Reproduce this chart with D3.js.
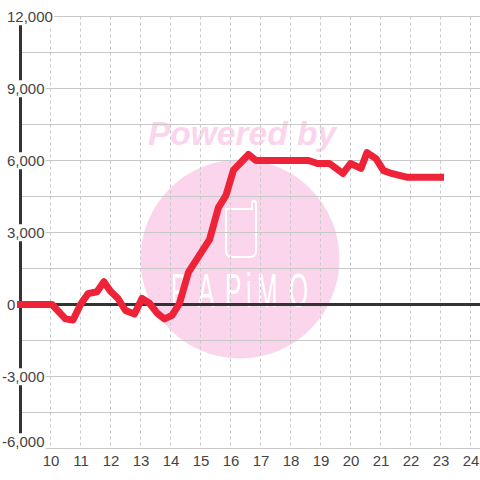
<!DOCTYPE html>
<html>
<head>
<meta charset="utf-8">
<script src="https://cdnjs.cloudflare.com/ajax/libs/d3/7.8.5/d3.min.js"></script>
<style>
    html, body { margin: 0; padding: 0; background: #fff; }
    svg { display: block; }
    text { font-family: "Liberation Sans", sans-serif; }
</style>
</head>
<body>
<div id="chart"></div>
<script>
'use strict';

const hours = [9, 10.05, 10.5, 10.75, 11, 11.25, 11.55, 11.78, 12, 12.25, 12.5, 12.8, 13.05, 13.3, 13.55, 13.8, 14.05, 14.3, 14.6, 15.3, 15.6, 15.85, 16.1, 16.6, 16.85, 18.6, 18.9, 19.3, 19.75, 20, 20.35, 20.55, 20.85, 21.1, 21.4, 21.9, 23];
const values = [0, 0, -600, -650, 0, 450, 530, 950, 550, 250, -250, -400, 250, 50, -350, -600, -450, 50, 1350, 2700, 4050, 4550, 5600, 6250, 6000, 6000, 5875, 5875, 5460, 5875, 5670, 6330, 6080, 5580, 5450, 5300, 5300];
const xTicks = [10, 11, 12, 13, 14, 15, 16, 17, 18, 19, 20, 21, 22, 23, 24];
const yLabelTicks = [12000, 9000, 6000, 3000, 0, -3000, -6000];
const yGridTicks = d3.range(-6000, 12001, 1500);

const svg = d3.select("#chart").append("svg").attr("width", 480).attr("height", 480);

const x = d3.scaleLinear().domain([9, 25]).range([20.5, 500.5]);
const y = d3.scaleLinear().domain([-6000, 12000]).range([448.5, 16.5]);

// watermark sits under the grid
const mark = svg.append("g");
mark.append("circle").attr("cx", 240).attr("cy", 259).attr("r", 99.5).attr("fill", "#fbd5ec");
mark.append("text").attr("x", 242).attr("y", 145).attr("text-anchor", "middle")
    .style("font-weight", "bold").style("font-style", "italic")
    .style("font-size", "33.5px").attr("fill", "#fbd5ec").text("Powered by");
mark.append("path")
    .attr("d", "M226,209H252V204Q252,201 254,201Q256,201 256,204V251Q256,257 250,257H232Q226,257 226,251Z")
    .attr("fill", "none").attr("stroke", "#fff").attr("stroke-width", 2);
// logo letters are narrow and widely spaced, so squeeze the text and place each glyph
const logoSqueeze = 0.5;
mark.append("text")
    .attr("transform", `translate(0,307) scale(${logoSqueeze},1)`)
    .attr("x", [171, 198, 225, 246, 257, 289].map(d => d / logoSqueeze).join(" "))
    .style("font-size", "49px").attr("fill", "#fff")
    .text("PAPiMO");

// grid
const grid = svg.append("g");
grid.selectAll("line.h").data(yGridTicks).join("line")
    .attr("x1", x(9)).attr("x2", 480)
    .attr("y1", d => y(d)).attr("y2", d => y(d))
    .attr("stroke", "#c8c8c8").attr("stroke-width", 1);
grid.selectAll("line.v").data(xTicks).join("line")
    .attr("x1", d => x(d)).attr("x2", d => x(d))
    .attr("y1", y(12000)).attr("y2", y(-6000))
    .attr("stroke", "#c8c8c8").attr("stroke-width", 1).attr("stroke-dasharray", "3,3");

// axis lines
svg.append("line").attr("x1", x(9)).attr("x2", x(9)).attr("y1", y(12000)).attr("y2", y(-6000))
    .attr("stroke", "#333").attr("stroke-width", 3);
svg.append("line").attr("x1", x(9)).attr("x2", 480).attr("y1", y(0)).attr("y2", y(0))
    .attr("stroke", "#333").attr("stroke-width", 3);

// series
const line = d3.line().x((d, i) => x(hours[i])).y(d => y(d));
svg.append("path").datum(values).attr("d", line)
    .attr("fill", "none").attr("stroke", "#ee2338").attr("stroke-width", 7)
    .attr("stroke-linecap", "square").attr("stroke-linejoin", "round");

// tick labels
const xAxis = svg.append("g").attr("transform", "translate(0,448)")
    .call(d3.axisBottom(x).tickValues(xTicks).tickSize(0).tickPadding(0));
xAxis.select(".domain").remove();
xAxis.selectAll("text").attr("y", 18).attr("dy", 0)
    .style("font-size", "15px").attr("fill", "#444");

const yAxis = svg.append("g")
    .call(d3.axisLeft(y).tickValues(yLabelTicks).tickSize(0)
        .tickFormat(d => d3.format(",")(d).replace("\u2212", "-")));
yAxis.select(".domain").remove();
yAxis.selectAll(".tick text")
    .attr("text-anchor", "start")
    .attr("x", d => d < 0 ? 2 : 7)
    .attr("y", d => d === -6000 ? -7 : 0)
    .attr("dy", "0.35em")
    .style("font-size", "15px").attr("fill", "#444");
// labels knock out the grid and axis behind them
yAxis.selectAll(".tick").each(function () {
    const label = d3.select(this).select("text");
    const box = label.node().getBBox();
    d3.select(this).insert("rect", "text")
        .attr("x", box.x).attr("y", box.y).attr("width", box.width + 1).attr("height", box.height)
        .attr("fill", "#fff");
});
</script>
</body>
</html>
